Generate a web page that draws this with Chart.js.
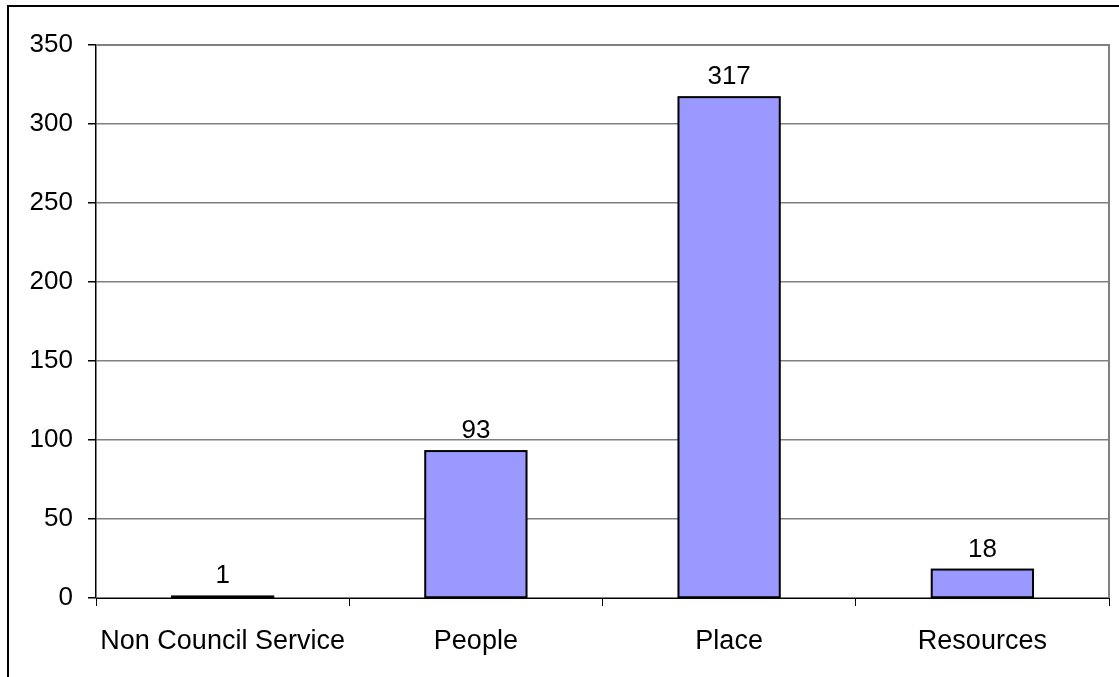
<!DOCTYPE html>
<html>
<head>
<meta charset="utf-8">
<script src="https://cdn.jsdelivr.net/npm/chart.js@4/dist/chart.umd.min.js"></script>
<style>
  html, body { margin: 0; padding: 0; background: #fff; overflow: hidden; }
  #wrap { position: relative; width: 1119px; height: 677px; }
  #frame { position: absolute; left: 7px; top: 5px; width: 1130px; height: 690px; border: 2px solid #000; box-sizing: border-box; }
  canvas { position: absolute; left: 0; top: 0; }
</style>
</head>
<body>
<div id="wrap">
  <div id="frame"></div>
  <canvas id="grafico" width="1119" height="677"></canvas>
</div>
<script>
// datos del grafico
let categorias = ["Non Council Service", "People", "Place", "Resources"];
let valores = [1, 93, 317, 18];
let ticksY = [0, 50, 100, 150, 200, 250, 300, 350];

const fuente = { family: "'Liberation Sans', Arial, sans-serif", size: 26 };
const fuenteX = { family: "'Liberation Sans', Arial, sans-serif", size: 27 };

// contorno negro de las barras y etiquetas encima
const etiquetasBarras = {
    id: 'etiquetasBarras',
    afterDatasetsDraw(chart) {
        const ctx = chart.ctx;
        const meta = chart.getDatasetMeta(0);
        ctx.save();
        ctx.strokeStyle = '#000';
        ctx.lineWidth = 2;
        meta.data.forEach(function (bar) {
            ctx.strokeRect(bar.x - bar.width / 2, bar.y, bar.width, bar.base - bar.y);
        });
        ctx.font = fuente.size + 'px ' + fuente.family;
        ctx.fillStyle = '#000';
        ctx.textAlign = 'center';
        ctx.textBaseline = 'alphabetic';
        meta.data.forEach(function (bar, i) {
            ctx.fillText(String(valores[i]), bar.x, bar.y - 13);
        });
        ctx.restore();
    }
};

// borde derecho y superior del area de trazado
const bordeArea = {
    id: 'bordeArea',
    beforeDatasetsDraw(chart) {
        const a = chart.chartArea;
        const ctx = chart.ctx;
        ctx.save();
        ctx.strokeStyle = '#808080';
        ctx.lineWidth = 2;
        ctx.beginPath();
        ctx.moveTo(a.left, a.top);
        ctx.lineTo(a.right, a.top);
        ctx.lineTo(a.right, a.bottom);
        ctx.stroke();
        ctx.restore();
    }
};

new Chart(document.getElementById('grafico'), {
    type: 'bar',
    data: {
        labels: categorias,
        datasets: [{
            data: valores,
            backgroundColor: '#9999FF',
            borderWidth: 0,
            categoryPercentage: 0.4,
            barPercentage: 1.0
        }]
    },
    options: {
        responsive: false,
        animation: false,
        events: [],
        layout: { padding: { left: 0, top: 45, right: 10, bottom: 0 } },
        plugins: { legend: { display: false }, tooltip: { enabled: false } },
        scales: {
            x: {
                offset: true,
                grid: { display: true, offset: true, drawOnChartArea: false, color: '#000', tickLength: 8, lineWidth: 1 },
                border: { color: '#000', width: 1 },
                ticks: { color: '#000', font: fuenteX, padding: 19, maxRotation: 0 },
                afterFit: function (scale) { scale.height = 79; }
            },
            y: {
                min: 0,
                max: 350,
                afterBuildTicks: function (scale) { scale.ticks = ticksY.map(v => ({ value: v })); },
                grid: { color: '#808080', lineWidth: 1.5, tickLength: 8, tickColor: '#000' },
                border: { color: '#000', width: 1.5 },
                ticks: { color: '#000', font: fuente, padding: 15 },
                afterFit: function (scale) { scale.width = 96; }
            }
        }
    },
    plugins: [bordeArea, etiquetasBarras]
});
</script>
</body>
</html>
